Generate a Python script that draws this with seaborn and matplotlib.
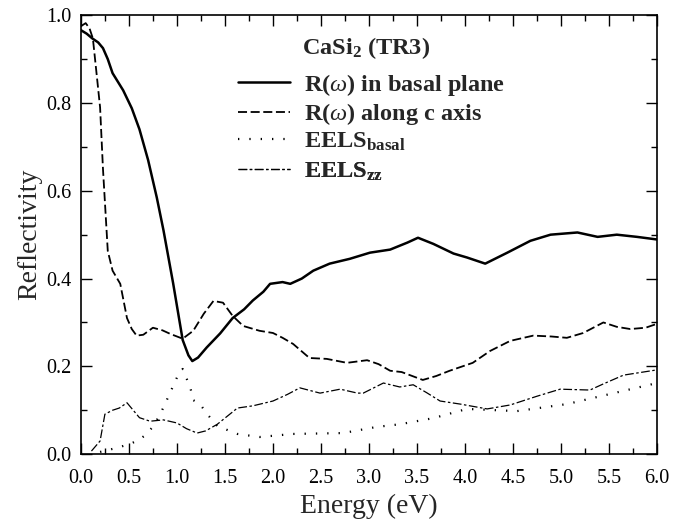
import matplotlib
matplotlib.use("Agg")
import matplotlib.pyplot as plt
import seaborn as sns
import pandas as pd
from matplotlib.ticker import MultipleLocator, FormatStrFormatter

# ---- data ----
E_basal = [0.0, 0.06, 0.12, 0.18, 0.23, 0.28, 0.33, 0.44, 0.53, 0.61, 0.70, 0.79, 0.86, 0.91, 0.96,
           1.06, 1.12, 1.16, 1.22, 1.31, 1.45, 1.58, 1.70, 1.79, 1.90, 1.97, 2.10, 2.18,
           2.30, 2.42, 2.59, 2.80, 3.01, 3.22, 3.40, 3.51, 3.67, 3.88, 4.02, 4.21, 4.44,
           4.68, 4.89, 5.17, 5.38, 5.58, 5.79, 6.0]
R_basal = [0.966, 0.958, 0.947, 0.938, 0.925, 0.90, 0.868, 0.829, 0.788, 0.74, 0.67, 0.585, 0.51, 0.45, 0.39,
           0.26, 0.225, 0.212, 0.22, 0.243, 0.275, 0.31, 0.33, 0.35, 0.37, 0.388, 0.392, 0.388,
           0.40, 0.418, 0.434, 0.445, 0.459, 0.466, 0.482, 0.493, 0.479, 0.457, 0.448, 0.434, 0.459,
           0.486, 0.50, 0.505, 0.495, 0.50, 0.495, 0.489]

E_caxis = [0.0, 0.05, 0.09, 0.125, 0.16, 0.20, 0.23, 0.28, 0.33, 0.41, 0.48, 0.53, 0.58, 0.65,
           0.75, 0.85, 0.93, 1.06, 1.17, 1.28, 1.38, 1.48, 1.58, 1.69, 1.86, 2.0, 2.1, 2.21,
           2.38, 2.56, 2.77, 2.98, 3.10, 3.22, 3.34, 3.45, 3.56, 3.70, 3.84, 4.08, 4.26,
           4.47, 4.71, 4.90, 5.06, 5.23, 5.44, 5.58, 5.72, 5.88, 6.0]
R_caxis = [0.975, 0.982, 0.97, 0.947, 0.874, 0.79, 0.65, 0.463, 0.418, 0.388, 0.31, 0.285, 0.27, 0.272,
           0.288, 0.282, 0.274, 0.263, 0.281, 0.32, 0.349, 0.345, 0.315, 0.292, 0.281, 0.276, 0.265, 0.251,
           0.219, 0.217, 0.208, 0.214, 0.205, 0.19, 0.187, 0.178, 0.169, 0.178, 0.19, 0.208, 0.235,
           0.258, 0.27, 0.268, 0.265, 0.276, 0.30, 0.29, 0.285, 0.288, 0.297]

E_eels_basal = [0.2, 0.37, 0.51, 0.60, 0.67, 0.74, 0.82, 0.89, 0.96, 1.03, 1.06, 1.09, 1.14,
                1.17, 1.24, 1.32, 1.42, 1.63, 1.86, 2.21, 2.73, 3.08, 3.32, 3.67, 4.02, 4.54,
                5.06, 5.51, 6.0]
EELS_basal = [0.005, 0.014, 0.023, 0.032, 0.043, 0.06, 0.088, 0.121, 0.155, 0.189, 0.194, 0.178, 0.151,
              0.123, 0.114, 0.09, 0.064, 0.046, 0.039, 0.046, 0.048, 0.062, 0.068, 0.082, 0.103, 0.098,
              0.114, 0.137, 0.162]

E_eels_zz = [0.11, 0.2, 0.25, 0.33, 0.40, 0.48, 0.61, 0.72, 0.86, 1.0, 1.10, 1.21, 1.30, 1.42,
             1.63, 1.79, 2.0, 2.15, 2.28, 2.49, 2.7, 2.88, 2.94, 3.15, 3.32, 3.46, 3.60, 3.74,
             3.95, 4.23, 4.47, 4.75, 4.99, 5.3, 5.44, 5.65, 6.0]
EELS_zz = [0.007, 0.03, 0.091, 0.1, 0.105, 0.117, 0.083, 0.075, 0.078, 0.071, 0.058, 0.048, 0.053, 0.068,
           0.105, 0.11, 0.121, 0.136, 0.151, 0.139, 0.148, 0.139, 0.139, 0.162, 0.153, 0.158, 0.14, 0.121,
           0.114, 0.103, 0.112, 0.132, 0.148, 0.146, 0.16, 0.18, 0.192]

labels = [r"R($\omega$) in basal plane", r"R($\omega$) along c axis",
          r"EELS$_{\mathbf{basal}}$", r"EELS$_{\mathbf{zz}}$"]
title_text = r"CaSi$_{\mathbf{2}}$ (TR3)"
x_ticks = [0.0, 0.5, 1.0, 1.5, 2.0, 2.5, 3.0, 3.5, 4.0, 4.5, 5.0, 5.5, 6.0]
y_ticks = [0.0, 0.2, 0.4, 0.6, 0.8, 1.0]

sns.set_theme(style="ticks")
plt.rcParams["font.family"] = ["Liberation Serif", "DejaVu Serif"]
plt.rcParams["mathtext.fontset"] = "custom"
plt.rcParams["mathtext.rm"] = "Liberation Serif"
plt.rcParams["mathtext.it"] = "Liberation Serif:italic"
plt.rcParams["mathtext.bf"] = "Liberation Serif:bold"

fig = plt.figure(figsize=(6.74, 5.25), dpi=100)
ax = fig.add_axes([0.120, 0.135, 0.855, 0.836])

series = [
    (E_basal, R_basal, dict(color="black", lw=1.8, linestyle="-")),
    (E_caxis, R_caxis, dict(color="black", lw=1.3, linestyle=(0, (5, 2)))),
    (E_eels_basal, EELS_basal, dict(color="black", lw=1.6, linestyle=(0, (0.6, 4.5)))),
    (E_eels_zz, EELS_zz, dict(color="black", lw=0.9, linestyle=(0, (7, 2, 2, 2)))),
]
for (xs, ys, st), lab in zip(series, labels):
    df = pd.DataFrame({"Energy": xs, "Value": ys})
    sns.lineplot(data=df, x="Energy", y="Value", ax=ax, label=lab, sort=False, **st)

ax.set_xlim(0, 6.0)
ax.set_ylim(0, 1.0)
ax.set_xticks(x_ticks)
ax.set_yticks(y_ticks)
ax.xaxis.set_major_formatter(FormatStrFormatter("%.1f"))
ax.yaxis.set_major_formatter(FormatStrFormatter("%.1f"))
ax.xaxis.set_minor_locator(MultipleLocator(0.25))
ax.yaxis.set_minor_locator(MultipleLocator(0.1))
ax.tick_params(which="both", direction="in", top=True, right=True, width=1.0, colors="black",
               labelsize=14.5)
ax.tick_params(which="major", length=8)
ax.tick_params(which="minor", length=4)
ax.tick_params(axis="x", which="major", pad=11)
ax.tick_params(axis="y", which="major", pad=7)
for sp in ax.spines.values():
    sp.set_linewidth(1.2)
    sp.set_color("black")
ax.set_xlabel("Energy (eV)", fontsize=20, labelpad=4)
ax.set_ylabel("Reflectivity", fontsize=20, labelpad=3)

# legend: one row per entry so the rows are evenly spaced
handles, labs = ax.get_legend_handles_labels()
if ax.get_legend():
    ax.get_legend().remove()
row_y = [0.842, 0.774, 0.711, 0.643]
for h, lab, yy in zip(handles, labs, row_y):
    lg = ax.legend([h], [lab], loc="center left", bbox_to_anchor=(0.2726, yy), frameon=False,
                   prop={"family": "Liberation Serif", "weight": "bold", "size": 17.5},
                   handlelength=2.15, handletextpad=0.55, borderaxespad=0, borderpad=0)
    ax.add_artist(lg)
ax.text(0.384, 0.925, title_text, transform=ax.transAxes, fontsize=17.5, fontweight="bold",
        va="center", ha="left")

fig.savefig("out.png", dpi=100)
